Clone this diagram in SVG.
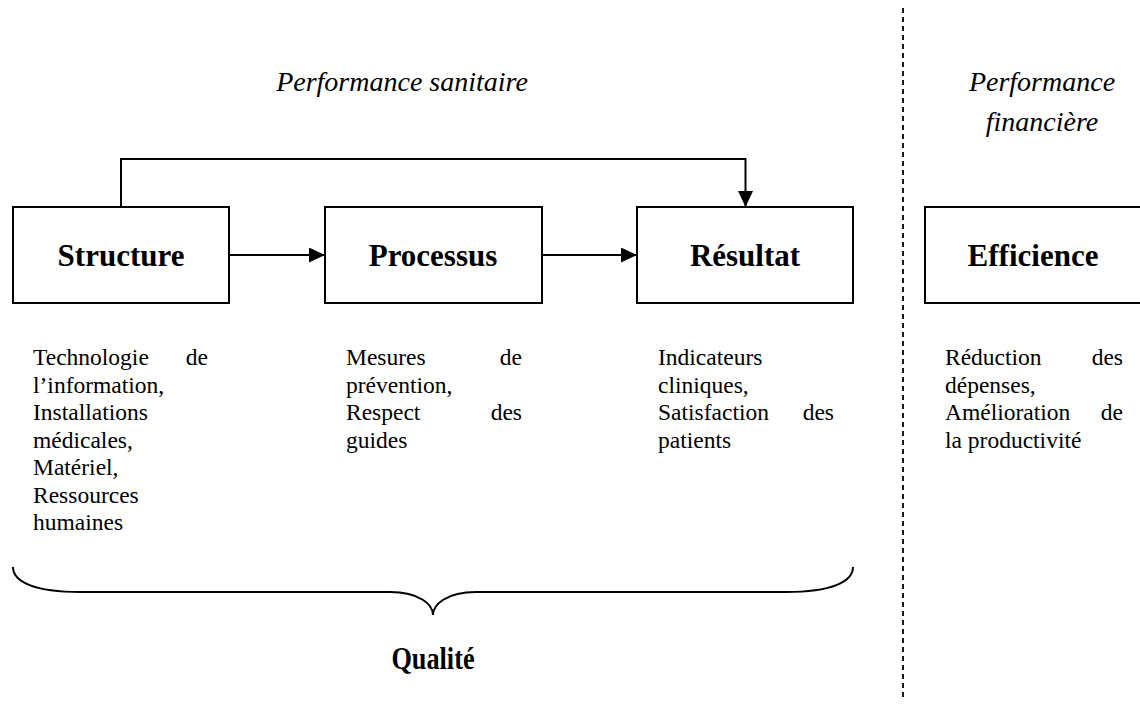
<svg xmlns="http://www.w3.org/2000/svg" width="1140" height="704" viewBox="0 0 1140 704">
<style>
.box{fill:#fff;stroke:#000;stroke-width:2}
.lbl{font-family:"Liberation Serif",serif;font-weight:bold;font-size:31px;text-anchor:middle;fill:#000}
.ttl{font-family:"Liberation Serif",serif;font-style:italic;font-size:28px;text-anchor:middle;fill:#000}
.body{font-family:"Liberation Serif",serif;font-size:23.5px;fill:#000}
.end{text-anchor:end}
.ln{fill:none;stroke:#000;stroke-width:2}
</style>
<defs>
<marker id="ah" markerWidth="16" markerHeight="15" refX="16" refY="7.5" orient="auto" markerUnits="userSpaceOnUse">
<path d="M0,0 L16,7.5 L0,15 Z" fill="#000"/>
</marker>
</defs>
<rect width="1140" height="704" fill="#fff"/>
<text class="ttl" x="402" y="91">Performance sanitaire</text>
<text class="ttl" x="1042" y="91">Performance</text>
<text class="ttl" x="1042" y="131">financière</text>
<line x1="903" y1="8" x2="903" y2="700" stroke="#000" stroke-width="1.8" stroke-dasharray="5,4"/>
<g id="connectors">
<path class="ln" d="M121,207 V159 H745.5 V207" marker-end="url(#ah)"/>
<line class="ln" x1="229" y1="255" x2="325" y2="255" marker-end="url(#ah)"/>
<line class="ln" x1="542" y1="255" x2="637" y2="255" marker-end="url(#ah)"/>
</g>
<g id="structure">
<rect class="box" x="13" y="207" width="216" height="96"/>
<text class="lbl" x="121" y="266">Structure</text>
</g>
<g id="processus">
<rect class="box" x="325" y="207" width="217" height="96"/>
<text class="lbl" x="433" y="266">Processus</text>
</g>
<g id="resultat">
<rect class="box" x="637" y="207" width="216" height="96"/>
<text class="lbl" x="745" y="266">Résultat</text>
</g>
<g id="efficience">
<rect class="box" x="925" y="207" width="230" height="96"/>
<text class="lbl" x="1033" y="266">Efficience</text>
</g>
<g id="text-structure">
<text class="body" x="33" y="365">Technologie</text><text class="body end" x="208" y="365">de</text>
<text class="body" x="33" y="392.5">l’information,</text>
<text class="body" x="33" y="420">Installations</text>
<text class="body" x="33" y="447.5">médicales,</text>
<text class="body" x="33" y="475">Matériel,</text>
<text class="body" x="33" y="502.5">Ressources</text>
<text class="body" x="33" y="530">humaines</text>
</g>
<g id="text-processus">
<text class="body" x="346" y="365">Mesures</text><text class="body end" x="522" y="365">de</text>
<text class="body" x="346" y="392.5">prévention,</text>
<text class="body" x="346" y="420">Respect</text><text class="body end" x="522" y="420">des</text>
<text class="body" x="346" y="447.5">guides</text>
</g>
<g id="text-resultat">
<text class="body" x="658" y="365">Indicateurs</text>
<text class="body" x="658" y="392.5">cliniques,</text>
<text class="body" x="658" y="420">Satisfaction</text><text class="body end" x="834" y="420">des</text>
<text class="body" x="658" y="447.5">patients</text>
</g>
<g id="text-efficience">
<text class="body" x="945" y="365">Réduction</text><text class="body end" x="1123" y="365">des</text>
<text class="body" x="945" y="392.5">dépenses,</text>
<text class="body" x="945" y="420">Amélioration</text><text class="body end" x="1123" y="420">de</text>
<text class="body" x="945" y="447.5">la productivité</text>
</g>
<g id="brace">
<path class="ln" d="M13,567 C13,582 35,592 80,592 L390,592 C420,592 433,605 433,615 C433,605 446,592 476,592 L786,592 C831,592 853,582 853,567"/>
</g>
<text transform="translate(433,669) scale(0.82,1)" font-family="'Liberation Serif',serif" font-weight="bold" font-size="32" text-anchor="middle">Qualité</text>
</svg>
